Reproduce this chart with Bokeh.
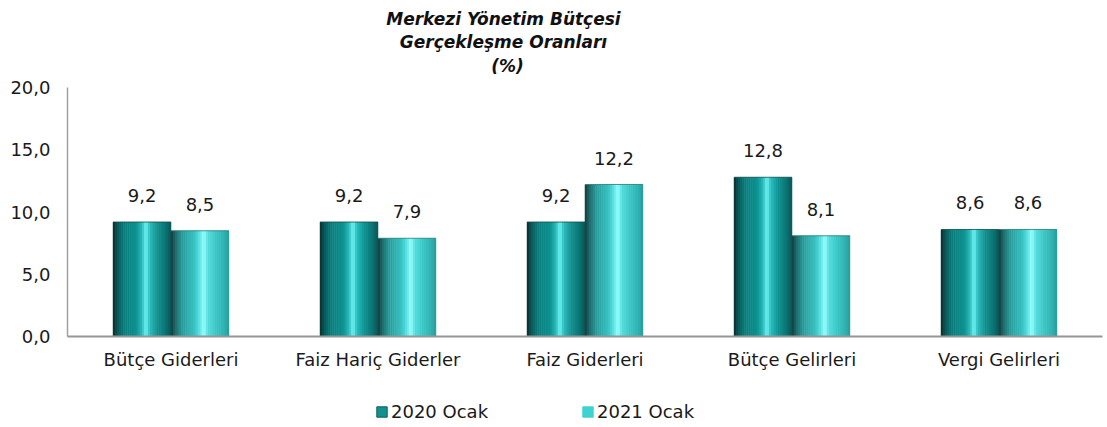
from bokeh.plotting import figure
from bokeh.layouts import column
from bokeh.models import (FactorRange, Range1d, LabelSet, ColumnDataSource, Label,
                          Legend, LegendItem, CustomJSTickFormatter, FixedTicker)
from bokeh.transform import dodge
from bokeh.core.properties import value
from bokeh.embed import file_html
from bokeh.resources import INLINE

# ---------------- data ----------------
categories = ["Bütçe Giderleri", "Faiz Hariç Giderler", "Faiz Giderleri",
              "Bütçe Gelirleri", "Vergi Gelirleri"]
values_2020 = [9.2, 9.2, 9.2, 12.8, 8.6]
values_2021 = [8.5, 7.9, 12.2, 8.1, 8.6]
series_names = ["2020 Ocak", "2021 Ocak"]
y_ticks = [0, 5, 10, 15, 20]
title_lines = ["Merkezi Yönetim Bütçesi", "Gerçekleşme Oranları", "(%)"]

FONT = "DejaVu Sans"


def fmt(v):
    return f"{v:.1f}".replace(".", ",")


src = ColumnDataSource(dict(
    cat=categories,
    v2020=values_2020,
    v2021=values_2021,
    t2020=[fmt(v) for v in values_2020],
    t2021=[fmt(v) for v in values_2021],
))

# layout: y=0 at 336px, y=20 at 87px; frame spans 0..336px so the title fits inside it
PX = (336 - 87) / 20.0
MAIN_H = 392
p = figure(x_range=FactorRange(factors=categories, range_padding=0),
           y_range=Range1d(0, 336 / PX),
           width=1107, height=MAIN_H,
           output_backend="svg", toolbar_location=None,
           min_border_left=67, min_border_right=5,
           min_border_top=0, min_border_bottom=MAIN_H - 336)
p.outline_line_color = None
p.grid.grid_line_color = None
p.background_fill_color = "white"

# ---------------- cylinder-like shading via strips ----------------
def hex2rgb(h):
    h = h.lstrip("#")
    return tuple(int(h[i:i + 2], 16) for i in (0, 2, 4))


def interp(stops, t):
    for (t0, c0), (t1, c1) in zip(stops, stops[1:]):
        if t0 <= t <= t1:
            f = 0 if t1 == t0 else (t - t0) / (t1 - t0)
            a, b = hex2rgb(c0), hex2rgb(c1)
            return "#%02x%02x%02x" % tuple(round(a[k] + (b[k] - a[k]) * f) for k in range(3))
    return stops[-1][1]


stops_2020 = [(0.0, "#0a2c2c"), (0.08, "#0b5a5a"), (0.2, "#0a7f7e"), (0.4, "#0c9190"),
              (0.5, "#28b8b8"), (0.57, "#72f4f4"), (0.64, "#29bcbc"), (0.76, "#0e9291"),
              (0.9, "#0b7776"), (1.0, "#0b5656")]
stops_2021 = [(0.0, "#143a3a"), (0.08, "#1f6c6c"), (0.2, "#2a9c9c"), (0.4, "#36c0c0"),
              (0.5, "#5de3e3"), (0.57, "#9cffff"), (0.64, "#56dede"), (0.78, "#39c5c5"),
              (0.92, "#31b3b3"), (1.0, "#2a9a9a")]

BAR_W = 0.28
N = 28
sw = BAR_W / N
for series, col, stops, base in (("2020", "v2020", stops_2020, -BAR_W),
                                 ("2021", "v2021", stops_2021, 0.0)):
    for i in range(N):
        t = (i + 0.5) / N
        off = base + (i + 0.5) * sw
        p.vbar(x=dodge("cat", off, range=p.x_range), top=col, width=sw * 1.25,
               source=src, fill_color=interp(stops, t), line_color=None)

# thin top rim on each bar
for col, base, rim in (("v2020", -BAR_W / 2, "#0d4f4f"), ("v2021", BAR_W / 2, "#1f7f7f")):
    p.rect(x=dodge("cat", base, range=p.x_range), y=col, width=BAR_W, height=0.08,
           source=src, fill_color=rim, line_color=None, fill_alpha=0.8)

# ---------------- value labels ----------------
for col, txt, off in (("v2020", "t2020", -BAR_W / 2), ("v2021", "t2021", BAR_W / 2)):
    p.add_layout(LabelSet(x=dodge("cat", off, range=p.x_range), y=col, text=txt,
                          source=src, text_align="center", text_baseline="alphabetic",
                          y_offset=20, text_font=value(FONT), text_font_size=value("18px"),
                          text_color="#1a1a1a"))

# ---------------- axes ----------------
p.yaxis.ticker = FixedTicker(ticks=y_ticks)
p.yaxis.formatter = CustomJSTickFormatter(code="return tick.toFixed(1).replace('.', ',');")
p.yaxis.bounds = (0, 20)
for ax in (p.xaxis[0], p.yaxis[0]):
    ax.major_tick_out = 0
    ax.major_tick_in = 0
    ax.minor_tick_out = 0
    ax.minor_tick_in = 0
    ax.major_label_text_font = FONT
    ax.major_label_text_font_size = "18px"
    ax.major_label_text_color = "#1a1a1a"
p.yaxis.axis_line_color = "#a0a0a0"
p.yaxis.axis_line_width = 1.5
p.yaxis.major_label_standoff = 17
p.xaxis.axis_line_color = "#959595"
p.xaxis.axis_line_width = 2
p.xaxis.major_label_standoff = 12

# ---------------- title ----------------
title_y = [25.54, 23.69, 21.69]
title_x = [2.106, 2.106, 2.126]
for txt, tx, ty in zip(title_lines, title_x, title_y):
    p.add_layout(Label(x=tx, y=ty, text=txt, text_align="center", text_baseline="alphabetic",
                       text_font=FONT, text_font_style="bold italic",
                       text_font_size="17px", text_color="#111111"))

# ---------------- legend (separate strip below the chart) ----------------
LEG_H = 427 - MAIN_H
q = figure(width=1107, height=LEG_H, x_range=Range1d(0, 1), y_range=Range1d(0, 1),
           output_backend="svg", toolbar_location=None,
           x_axis_location=None, y_axis_location=None,
           min_border_left=0, min_border_right=0, min_border_top=0, min_border_bottom=0)
q.outline_line_color = None
q.grid.grid_line_color = None
r20 = q.vbar(x=[-5], top=[0], width=0.1, fill_color="#14918f", line_color="#0c5f5f", line_width=1)
r21 = q.vbar(x=[-5], top=[0], width=0.1, fill_color="#3dd3d3", line_color="#3dd3d3", line_width=1)
lg = Legend(items=[LegendItem(label=series_names[0], renderers=[r20]),
                   LegendItem(label=series_names[1], renderers=[r21])],
            location=(308, 5), orientation="horizontal",
            glyph_width=13, glyph_height=13, label_standoff=3,
            label_width=170, spacing=20, padding=0, margin=0,
            border_line_color=None, background_fill_alpha=0,
            label_text_font=FONT, label_text_font_size="18px",
            label_text_color="#1a1a1a")
q.add_layout(lg, "center")

layout = column(p, q, spacing=0)
open("out.html", "w").write(file_html(layout, INLINE))
